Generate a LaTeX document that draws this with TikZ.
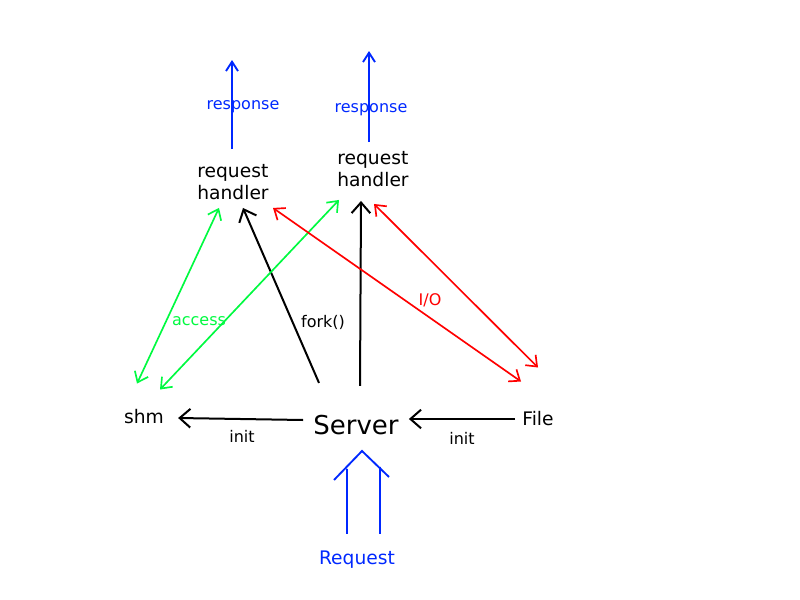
\documentclass[tikz,border=0pt]{standalone}
\usepackage{fontspec}
\setmainfont{DejaVu Sans}
\usetikzlibrary{arrows.meta}
\definecolor{reqblue}{RGB}{0,40,255}
\definecolor{accgreen}{RGB}{0,250,64}
\tikzset{
  lbl/.style={inner sep=0pt,font=\fontsize{14}{16.5}\selectfont},
  small/.style={inner sep=0pt,font=\fontsize{12}{14}\selectfont},
  arr/.style={line width=1.5pt,-{Straight Barb[length=8pt,width=14pt]}},
  twoway/.style={line width=1.25pt,{Straight Barb[length=7pt,width=11pt]}-{Straight Barb[length=7pt,width=11pt]}},
}
\begin{document}
\begin{tikzpicture}[x=0.75pt,y=0.75pt,yscale=-1,xscale=1]
  \useasboundingbox (0,0) rectangle (800,600);

  % Text Nodes
  \node[lbl] (shm) at (144,417) {shm};
  \node[inner sep=0pt,font=\fontsize{19.5}{23}\selectfont] (server) at (356,425) {Server};
  \node[lbl] (file) at (538,419) {File};
  \node[lbl,text=reqblue] (request) at (357,560) {Request};
  \node[lbl,align=left] (hleft) at (233,182) {request\\handler};
  \node[lbl,align=left] (hright) at (373,169) {request\\handler};
  \node[small,text=reqblue] (respleft) at (243,107) {response};
  \node[small,text=reqblue] (respright) at (371,110) {response};
  \node[small,text=accgreen] (access) at (199,321) {access};
  \node[small] (fork) at (323,322) {fork()};
  \node[small,text=red] (io) at (430,300) {I/O};
  \node[small] (initleft) at (242,436) {init};
  \node[small] (initright) at (462,438) {init};

  % free ends
  \coordinate (outleft) at (232,60);
  \coordinate (outright) at (369,51);

  % init
  \draw[arr] ([shift={(-10,-5)}]server.west) -- ([shift={(14,1)}]shm.east);
  \draw[arr] ([shift={(-7,0)}]file.west) -- ([shift={(10,-6)}]server.east);

  % fork()
  \draw[arr] ([shift={(-37,-32)}]server.north) -- ([shift={(10,8)}]hleft.south);
  \draw[arr] ([shift={(4,-29)}]server.north) -- ([shift={(-12,14)}]hright.south);

  % response
  \draw[arr,reqblue,line width=1.4pt,-{Straight Barb[length=7pt,width=9pt]}] ([shift={(-1,-15)}]hleft.north) -- (outleft);
  \draw[arr,reqblue,line width=1.4pt,-{Straight Barb[length=7pt,width=9pt]}] ([shift={(-4,-9)}]hright.north) -- (outright);

  % access
  \draw[twoway,accgreen] ([shift={(-7,-26)}]shm.north) -- ([shift={(-14,8)}]hleft.south);
  \draw[twoway,accgreen] ([shift={(16,-20)}]shm.north) -- ([shift={(-34,13)}]hright.south);

  % I/O
  \draw[twoway,red] ([shift={(40,8)}]hleft.south) -- ([shift={(-17,-30)}]file.north);
  \draw[twoway,red] ([shift={(1,17)}]hright.south) -- ([shift={(0,-44)}]file.north);

  % Request
  \draw[reqblue,line width=1.4pt] ([shift={(-10,-17)}]request.north) -- ++(0,-65)
    ([shift={(23,-17)}]request.north) -- ++(0,-67)
    ([shift={(-23,-71)}]request.north) -- ([shift={(5,-100)}]request.north) -- ([shift={(32,-74)}]request.north);
\end{tikzpicture}
\end{document}
